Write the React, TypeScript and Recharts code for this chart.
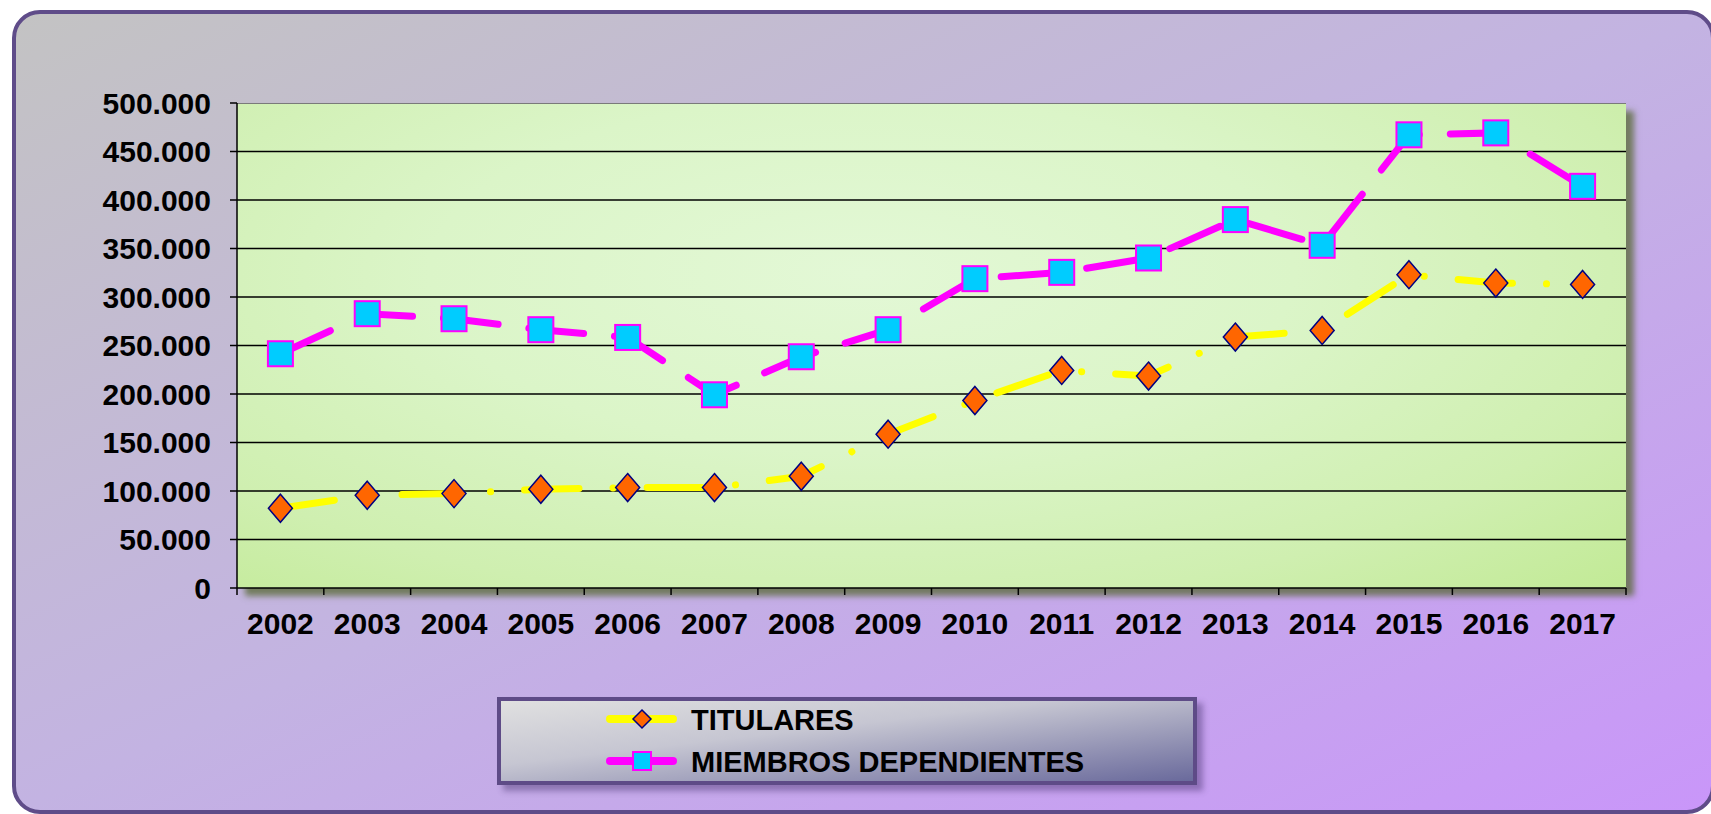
import { LineChart, Line, XAxis, YAxis, CartesianGrid } from 'recharts';

const YEARS = ['2002', '2003', '2004', '2005', '2006', '2007', '2008', '2009', '2010', '2011', '2012', '2013', '2014', '2015', '2016', '2017'];
const TITULARES = [82200, 95600, 97300, 101800, 103500, 103500, 115200, 158600, 193300, 224300, 218500, 258700, 265500, 323000, 314400, 313000];
const MIEMBROS = [241500, 282800, 277600, 266300, 258300, 199200, 238400, 266300, 318900, 325400, 340200, 379800, 353300, 467200, 469200, 414100];
const Y_TICKS = [0, 50000, 100000, 150000, 200000, 250000, 300000, 350000, 400000, 450000, 500000];
const GRID_VALUES = Y_TICKS.slice(1, -1);
const SERIES_NAMES = ['TITULARES', 'MIEMBROS DEPENDIENTES'];

const W = 1711;
const H = 814;
const PLOT = { left: 237, top: 103, right: 1626, bottom: 588 };
const FONT = '"Liberation Sans", Arial, sans-serif';

const data = YEARS.map((year, i) => ({ year, titulares: TITULARES[i], miembros: MIEMBROS[i] }));

const fmt = (v: number) => String(v).replace(/\B(?=(\d{3})+(?!\d))/g, '.');

function Diamond({ cx, cy, w = 12, h = 14 }: { cx: number; cy: number; w?: number; h?: number }) {
  return (
    <path
      d={`M${cx},${cy - h} L${cx + w},${cy} L${cx},${cy + h} L${cx - w},${cy} Z`}
      fill="#FF6600"
      stroke="#000080"
      strokeWidth={1.5}
    />
  );
}

function Square({ cx, cy, s = 12.5 }: { cx: number; cy: number; s?: number }) {
  return <rect x={cx - s} y={cy - s} width={s * 2} height={s * 2} fill="#00CCFF" stroke="#FF00FF" strokeWidth={2} />;
}

const YearTick = (props: any) => {
  const { x, y, payload, index } = props;
  const band = (PLOT.right - PLOT.left) / YEARS.length;
  const axisY = y - 25;
  return (
    <g>
      <line x1={x - band / 2} x2={x - band / 2} y1={axisY} y2={axisY + 7} stroke="#000" strokeWidth={1.5} />
      {index === YEARS.length - 1 && (
        <line x1={x + band / 2} x2={x + band / 2} y1={axisY} y2={axisY + 7} stroke="#000" strokeWidth={1.5} />
      )}
      <text x={x} y={y} dy="0.71em" textAnchor="middle" fontSize={30} fontWeight="bold" fontFamily={FONT} fill="#000">
        {payload.value}
      </text>
    </g>
  );
};

function LegendBox() {
  return (
    <div
      style={{
        position: 'absolute',
        left: 497,
        top: 697,
        width: 700,
        height: 88,
        boxSizing: 'border-box',
        border: '4px solid #5e4b87',
        background: 'linear-gradient(to bottom right, #e0e0e0 0%, #c6c6d2 40%, #6a6a9c 100%)',
        boxShadow: '6px 6px 6px rgba(70,50,110,0.45)',
      }}
    >
      <svg width={692} height={80} style={{ position: 'absolute', left: 0, top: 0 }}>
        {SERIES_NAMES.map((name, i) => {
          const cy = 18 + i * 42;
          return (
            <g key={name}>
              <line x1={109} x2={172} y1={cy} y2={cy} stroke={i === 0 ? '#FFFF00' : '#FF00FF'} strokeWidth={8} strokeLinecap="round" />
              {i === 0 ? <Diamond cx={141} cy={cy} w={9} h={9} /> : <Square cx={141} cy={cy} s={9} />}
              <text x={190} y={cy + 10.5} fontSize={29} fontWeight="bold" fontFamily={FONT} fill="#000">
                {name}
              </text>
            </g>
          );
        })}
      </svg>
    </div>
  );
}

export default function App() {
  return (
    <div style={{ position: 'absolute', left: 0, top: 0, width: W, height: H, overflow: 'hidden', background: '#fff' }}>
      <div
        style={{
          position: 'absolute',
          left: 12,
          top: 10,
          width: 1703,
          height: 804,
          boxSizing: 'border-box',
          border: '4px solid #5f4c89',
          borderRadius: 28,
          background: 'linear-gradient(to bottom right, #c3c3c3 0%, #c3b3e2 50%, #c996f9 100%)',
        }}
      />
      <div
        style={{
          position: 'absolute',
          left: PLOT.left,
          top: PLOT.top,
          width: PLOT.right - PLOT.left,
          height: PLOT.bottom - PLOT.top,
          borderTop: '1.5px solid #7a7a7a',
          boxSizing: 'border-box',
          background:
            'radial-gradient(ellipse at 45% 35%, #e3f8d6 0%, #dbf5c8 40%, #cfefb0 75%, #c2ea96 100%)',
          boxShadow: '8px 8px 6px rgba(80,100,40,0.7)',
        }}
      />
      <div style={{ position: 'absolute', left: 0, top: 0 }}>
        <LineChart width={W} height={H} data={data} margin={{ top: PLOT.top, right: W - PLOT.right, bottom: H - PLOT.bottom - 40, left: PLOT.left - 100 }}>
          <CartesianGrid vertical={false} horizontalValues={GRID_VALUES} stroke="#000" strokeWidth={1.5} />
          <XAxis
            dataKey="year"
            scale="band"
            interval={0}
            height={40}
            tickLine={false}
            tickSize={7}
            tickMargin={18}
            axisLine={{ stroke: '#000', strokeWidth: 1.5 }}
            tick={<YearTick />}
          />
          <YAxis
            width={100}
            domain={[0, 500000]}
            ticks={Y_TICKS}
            interval={0}
            tickFormatter={fmt}
            tickSize={7}
            tickMargin={19}
            axisLine={{ stroke: '#000', strokeWidth: 1.5 }}
            tickLine={{ stroke: '#000', strokeWidth: 1.5 }}
            tick={{ fill: '#000', fontSize: 30, fontWeight: 'bold', fontFamily: FONT }}
          />
          <Line
            dataKey="titulares"
            name={SERIES_NAMES[0]}
            type="linear"
            stroke="#FFFF00"
            strokeWidth={7}
            strokeDasharray="54.5 34 0.1 34"
            strokeLinecap="round"
            isAnimationActive={false}
            activeDot={false}
            dot={(p: any) => <Diamond key={`t${p.index}`} cx={p.cx} cy={p.cy} />}
          />
          <Line
            dataKey="miembros"
            name={SERIES_NAMES[1]}
            type="linear"
            stroke="#FF00FF"
            strokeWidth={7}
            strokeDasharray="55 31"
            strokeLinecap="round"
            isAnimationActive={false}
            activeDot={false}
            dot={(p: any) => <Square key={`m${p.index}`} cx={p.cx} cy={p.cy} />}
          />
        </LineChart>
      </div>
      <LegendBox />
    </div>
  );
}
